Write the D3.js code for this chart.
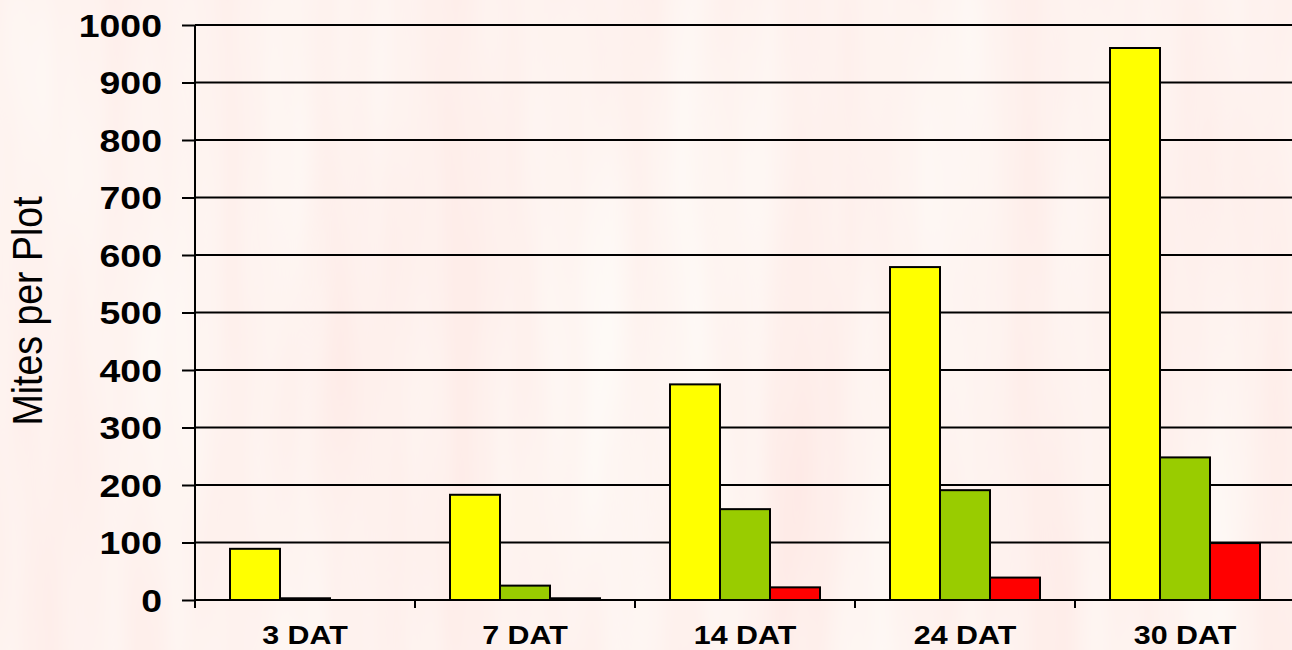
<!DOCTYPE html>
<html>
<head>
<meta charset="utf-8">
<script src="https://cdn.jsdelivr.net/npm/d3@7"></script>
<style>
  html, body { margin: 0; padding: 0; background: #fce5de; overflow: hidden; }
  svg { display: block; }
</style>
</head>
<body>
<svg id="chart" width="1292" height="650"></svg>
<script>
// ---- data ----
const categories = ["3 DAT", "7 DAT", "14 DAT", "24 DAT", "30 DAT"];
const seriesNames = ["Series 1", "Series 2", "Series 3"];
const series1 = [89, 183, 375, 579, 960];
const series2 = [3, 25, 158, 191, 248];
const series3 = [0, 3, 22, 39, 99];
const yTicks = [0, 100, 200, 300, 400, 500, 600, 700, 800, 900, 1000];
const yLabel = "Mites per Plot";

const seriesValues = [series1, series2, series3];
const seriesColors = ["#FFFF00", "#99CC00", "#FF0000"];

const W = 1292, H = 650;
const svg = d3.select("#chart");
const defs = svg.append("defs");

// marbled pink background
const f = defs.append("filter").attr("id", "marble")
  .attr("x", 0).attr("y", 0).attr("width", W).attr("height", H)
  .attr("filterUnits", "userSpaceOnUse");
f.append("feTurbulence").attr("type", "fractalNoise")
  .attr("baseFrequency", "0.012 0.0016").attr("numOctaves", 3).attr("seed", 7);
f.append("feColorMatrix").attr("type", "matrix")
  .attr("values", "0 0 0 0 0.99  0.18 0 0 0 0.80  0.18 0 0 0 0.77  0 0 0 0 1");
svg.append("rect").attr("width", W).attr("height", H).attr("fill", "#fce5de");
svg.append("rect").attr("width", W).attr("height", H).attr("filter", "url(#marble)");

// ---- scales ----
const x = d3.scaleBand().domain(categories).range([195, 1295]).paddingInner(0).paddingOuter(0);
const xs = d3.scaleBand().domain(seriesNames).range([0, x.bandwidth()]).paddingInner(0).paddingOuter(0.7);
const y = d3.scaleLinear().domain([0, 1000]).range([600, 25]);

const SX = 1.17; // horizontal stretch of the lettering

// gridlines
svg.append("g").selectAll("line").data(yTicks.filter(d => d > 0)).join("line")
  .attr("x1", 195).attr("x2", W)
  .attr("y1", d => y(d)).attr("y2", d => y(d))
  .attr("stroke", "#000").attr("stroke-width", 2);

// bars
const groups = svg.append("g").selectAll("g").data(categories).join("g")
  .attr("transform", c => `translate(${x(c)},0)`);
groups.selectAll("rect")
  .data((c, i) => seriesNames.map((s, j) => ({ s, v: seriesValues[j][i], color: seriesColors[j] })))
  .join("rect")
  .filter(d => d.v > 0)
  .attr("x", d => xs(d.s))
  .attr("width", xs.bandwidth())
  .attr("y", d => y(d.v))
  .attr("height", d => y(0) - y(d.v))
  .attr("fill", d => d.color)
  .attr("stroke", "#000").attr("stroke-width", 2);

// y axis
const yAxis = svg.append("g").attr("transform", "translate(195,0)")
  .call(d3.axisLeft(y).tickValues(yTicks).tickSize(13).tickFormat(""));
yAxis.select(".domain").remove();
yAxis.selectAll(".tick line").attr("stroke", "#000").attr("stroke-width", 2);
svg.append("line").attr("x1", 195).attr("x2", 195).attr("y1", 25).attr("y2", 608)
  .attr("stroke", "#000").attr("stroke-width", 2);

svg.append("g").selectAll("text").data(yTicks).join("text")
  .attr("transform", d => `translate(162,${y(d) + 11.5}) scale(${SX},1)`)
  .attr("text-anchor", "end")
  .attr("font-family", "Liberation Sans, Arial, sans-serif")
  .attr("font-weight", "bold")
  .attr("font-size", 32)
  .attr("fill", "#000")
  .text(d => d);

// x axis
const xAxis = svg.append("g").attr("transform", "translate(0,600)")
  .call(d3.axisBottom(x).tickSize(0).tickFormat(""));
xAxis.select(".domain").remove();
svg.append("line").attr("x1", 195).attr("x2", W).attr("y1", 600).attr("y2", 600)
  .attr("stroke", "#000").attr("stroke-width", 2);
svg.append("g").selectAll("line").data(categories).join("line")
  .attr("x1", c => x(c)).attr("x2", c => x(c))
  .attr("y1", 600).attr("y2", 608)
  .attr("stroke", "#000").attr("stroke-width", 2);

svg.append("g").selectAll("text").data(categories).join("text")
  .attr("transform", c => `translate(${x(c) + x.bandwidth() / 2},644) scale(${SX},1)`)
  .attr("text-anchor", "middle")
  .attr("font-family", "Liberation Sans, Arial, sans-serif")
  .attr("font-weight", "bold")
  .attr("font-size", 26)
  .attr("fill", "#000")
  .text(c => c);

// y label
svg.append("text")
  .attr("transform", `translate(42,311) rotate(-90) scale(1,1.12)`)
  .attr("text-anchor", "middle")
  .attr("font-family", "Liberation Sans, Arial, sans-serif")
  .attr("font-size", 37.5)
  .attr("fill", "#000")
  .text(yLabel);
</script>
</body>
</html>
